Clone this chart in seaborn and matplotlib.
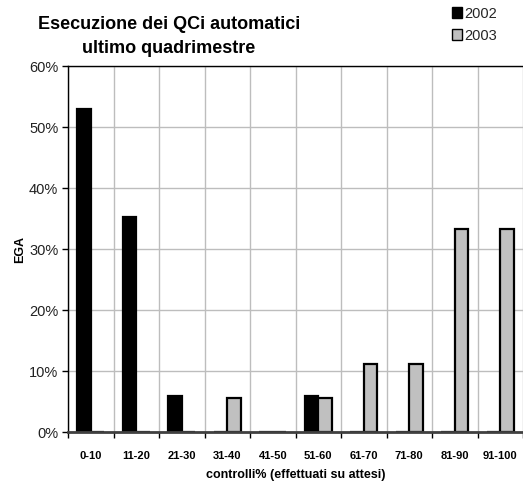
import matplotlib
matplotlib.use("Agg")
import matplotlib.pyplot as plt
from matplotlib.patches import Patch
from matplotlib.ticker import FixedLocator, PercentFormatter
import seaborn as sns
import pandas as pd

categories = ["0-10", "11-20", "21-30", "31-40", "41-50",
              "51-60", "61-70", "71-80", "81-90", "91-100"]
ega_2002 = [52.9, 35.3, 5.9, 0, 0, 5.9, 0, 0, 0, 0]
ega_2003 = [0, 0, 0, 5.6, 0, 5.6, 11.1, 11.1, 33.3, 33.3]
years = ["2002", "2003"]
colors = ["#000000", "#C0C0C0"]
title_lines = ["Esecuzione dei QCi automatici", "ultimo quadrimestre"]

df = pd.DataFrame({
    "fascia": categories * 2,
    "anno": [years[0]] * len(categories) + [years[1]] * len(categories),
    "EGA": ega_2002 + ega_2003,
})

sns.set_theme(style="white")
plt.rcParams["font.family"] = ["Liberation Sans", "DejaVu Sans"]

W, H = 523, 489
fig = plt.figure(figsize=(W / 100, H / 100), dpi=100)
ax = fig.add_axes([68 / W, 1 - 433 / H, 1 - 68 / W, (433 - 67) / H])

sns.barplot(data=df, x="fascia", y="EGA", hue="anno", order=categories,
            hue_order=years, palette=colors, width=0.6, edgecolor="black",
            linewidth=1.6, saturation=1, legend=False, ax=ax)

ax.set_xlim(-0.5, len(categories) - 0.5)
ax.set_ylim(0, 60)
ax.yaxis.set_major_locator(FixedLocator(range(0, 61, 10)))
ax.yaxis.set_major_formatter(PercentFormatter(decimals=0))
ax.xaxis.set_minor_locator(FixedLocator([i - 0.5 for i in range(len(categories) + 1)]))

ax.grid(axis="y", which="major", color="#BDBDBD", linewidth=1)
ax.grid(axis="x", which="minor", color="#BDBDBD", linewidth=1)
ax.grid(axis="x", which="major", visible=False)
ax.set_axisbelow(True)

for side in ("left", "top"):
    ax.spines[side].set_color("black")
    ax.spines[side].set_linewidth(1)
ax.spines["bottom"].set_color("#404040")
ax.spines["bottom"].set_linewidth(2)
ax.spines["bottom"].set_zorder(5)
ax.spines["right"].set_visible(False)

ax.tick_params(axis="y", which="major", left=True, length=4, width=1,
               color="black", labelsize=10.5, pad=3, labelcolor="#222222")
ax.tick_params(axis="x", which="major", length=0, labelsize=8, pad=13,
               labelcolor="black")
ax.tick_params(axis="x", which="minor", bottom=True, length=4, width=1,
               color="black")
for lab in ax.get_xticklabels():
    lab.set_fontweight("bold")

ax.set_xlabel("controlli% (effettuati su attesi)", fontsize=9, fontweight="bold",
              color="black")
ax.set_ylabel("EGA", fontsize=9, fontweight="bold", color="black")
ax.xaxis.set_label_coords(0.5, (433 - 469) / 366)
ax.yaxis.set_label_coords((26 - 68) / 455, 0.5)

for line, base in zip(title_lines, (29, 53)):
    fig.text(169 / W, 1 - base / H, line, ha="center", va="baseline",
             fontsize=13, fontweight="bold", color="black")

handles = [Patch(facecolor=c, edgecolor="black", linewidth=1.0) for c in colors]
fig.legend(handles, years, loc="upper right", bbox_to_anchor=(0.975, 1.012),
           frameon=False, fontsize=10.5, handlelength=0.7, handleheight=0.8,
           handletextpad=0.15, labelspacing=0.55)

fig.savefig("out.png", dpi=100)
